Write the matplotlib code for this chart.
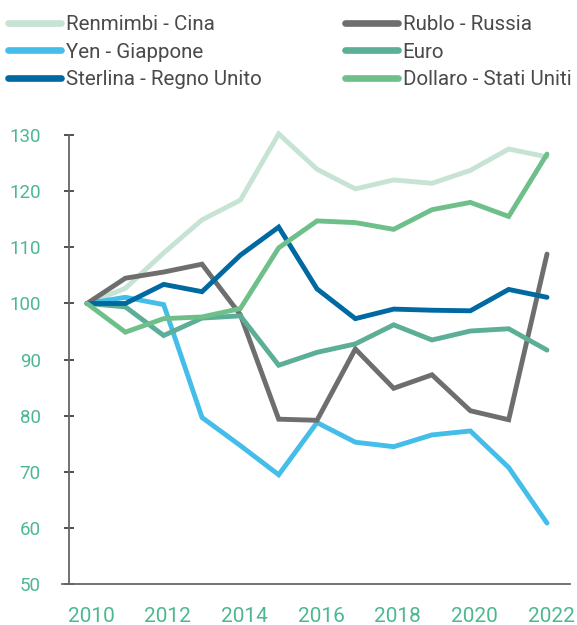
import matplotlib.pyplot as plt
from matplotlib.transforms import ScaledTranslation

plt.rcParams['font.family'] = ['Roboto', 'DejaVu Sans']

anni = list(range(2010, 2023))

renmimbi = [100, 102.7, 109.0, 114.9, 118.4, 130.2, 123.9, 120.4, 122.0, 121.4, 123.7, 127.5, 126.1]
yen = [100, 101.1, 99.8, 79.7, 74.7, 69.5, 78.8, 75.3, 74.5, 76.6, 77.3, 70.8, 60.9]
sterlina = [100, 100.0, 103.4, 102.1, 108.6, 113.6, 102.6, 97.3, 99.0, 98.8, 98.7, 102.5, 101.1]
rublo = [100, 104.5, 105.6, 107.0, 98.0, 79.4, 79.2, 91.9, 84.9, 87.3, 80.9, 79.3, 108.8]
euro = [100, 99.4, 94.3, 97.4, 97.8, 89.0, 91.3, 92.8, 96.2, 93.5, 95.1, 95.5, 91.7]
dollaro = [100, 94.9, 97.3, 97.6, 99.1, 109.9, 114.7, 114.4, 113.2, 116.7, 118.0, 115.5, 126.6]

serie_sx = [("Renmimbi - Cina", renmimbi, "#c6e3d4"),
            ("Yen - Giappone", yen, "#44bee9"),
            ("Sterlina - Regno Unito", sterlina, "#0069a1")]
serie_dx = [("Rublo - Russia", rublo, "#6e6e6e"),
            ("Euro", euro, "#5cae96"),
            ("Dollaro - Stati Uniti", dollaro, "#6fbf8a")]

verde = "#4db890"

fig = plt.figure(figsize=(5.77, 6.25), dpi=100)
ax = fig.add_axes([69/577, 1 - 584.3/625, (570 - 69)/577, (584.3 - 135)/625])

linee = {}
# ordine di disegno: le serie chiare sotto
for nome, val, col in [serie_sx[0], serie_sx[1], serie_dx[0], serie_dx[1], serie_sx[2], serie_dx[2]]:
    l, = ax.plot(anni, val, color=col, lw=3.5, solid_capstyle='round',
                 solid_joinstyle='miter', label=nome, clip_on=False)
    linee[nome] = l
linee_sx = [linee[s[0]] for s in serie_sx]
linee_dx = [linee[s[0]] for s in serie_dx]

ax.set_xlim(2009.53, 2022.6)
ax.set_ylim(50, 130)
ax.set_yticks(range(50, 131, 10))
ax.set_xticks(range(2010, 2023, 2))

for s in ['top', 'right']:
    ax.spines[s].set_visible(False)
for s in ['left', 'bottom']:
    ax.spines[s].set_color('#666666')
    ax.spines[s].set_linewidth(1.3)
ax.spines['bottom'].set_bounds(2009.53 - 7/38.33, 2022.6)

ax.tick_params(axis='y', direction='inout', length=6.5, width=1.1, color='#222222',
               labelsize=13.5, labelcolor=verde, pad=17)
ax.tick_params(axis='x', length=0, labelsize=15, labelcolor=verde, pad=16)
sposta = ScaledTranslation(4/100, 0, fig.dpi_scale_trans)
for lab in ax.get_xticklabels():
    lab.set_transform(lab.get_transform() + sposta)

leg_kw = dict(frameon=False, fontsize=14.8, handlelength=2.6, handletextpad=0.2,
              labelspacing=0.42, borderpad=0, borderaxespad=0, loc='upper left')
leg1 = fig.legend(handles=linee_sx, bbox_to_anchor=(8/577, 1 - 15/625), **leg_kw)
leg2 = fig.legend(handles=linee_dx, bbox_to_anchor=(345/577, 1 - 15/625), **leg_kw)
for leg in (leg1, leg2):
    for t in leg.get_texts():
        t.set_color('#4a4a4a')
    for h in leg.get_lines():
        h.set_linewidth(4.8)

plt.savefig('out.png')
